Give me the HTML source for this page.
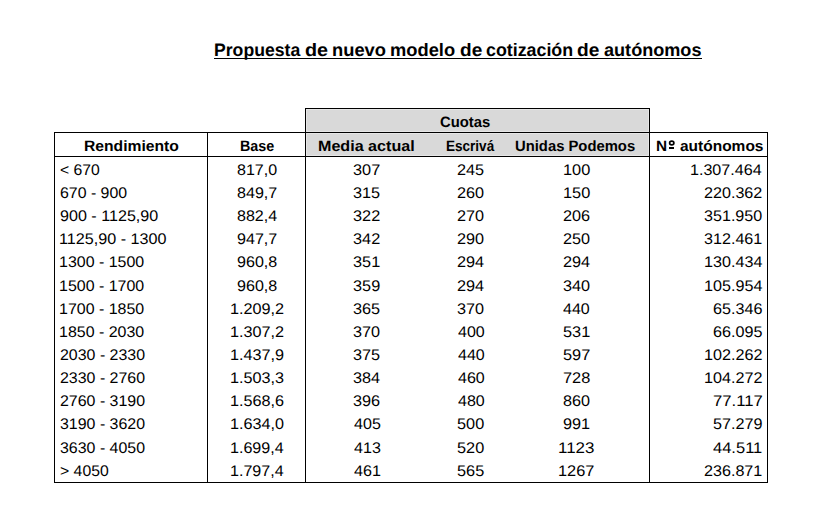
<!DOCTYPE html>
<html><head><meta charset="utf-8"><style>
html,body{margin:0;padding:0;background:#fff;}
body{width:813px;height:520px;position:relative;overflow:hidden;font-family:"Liberation Sans",sans-serif;color:#000;}
.t{position:absolute;white-space:pre;line-height:1;transform-origin:0 0;-webkit-font-smoothing:antialiased;text-rendering:geometricPrecision;}
.l{position:absolute;background:#000;}
.g{position:absolute;background:#d9d9d9;}
</style></head><body>
<div class="g" style="left:305px;top:108px;width:345px;height:48px"></div>
<div style="position:absolute;left:306px;top:109px;width:1px;height:47px;background:#e6e6e6"></div>
<div style="position:absolute;left:648px;top:109px;width:1px;height:47px;background:#e6e6e6"></div>
<div style="position:absolute;left:306px;top:109px;width:343px;height:1px;background:#e6e6e6"></div>
<div style="position:absolute;left:306px;top:131px;width:343px;height:1px;background:#e6e6e6"></div>
<div style="position:absolute;left:306px;top:133px;width:343px;height:1px;background:#e6e6e6"></div>
<div style="position:absolute;left:306px;top:155px;width:343px;height:1px;background:#e6e6e6"></div>
<div class="l" style="left:305px;top:108px;width:345px;height:1px"></div>
<div class="l" style="left:54px;top:132px;width:714px;height:1px"></div>
<div class="l" style="left:54px;top:156px;width:714px;height:1px"></div>
<div class="l" style="left:54px;top:482px;width:714px;height:1px"></div>
<div class="l" style="left:54px;top:132px;width:1px;height:351px"></div>
<div class="l" style="left:207px;top:132px;width:1px;height:351px"></div>
<div class="l" style="left:305px;top:108px;width:1px;height:375px"></div>
<div class="l" style="left:649px;top:108px;width:1px;height:375px"></div>
<div class="l" style="left:767px;top:132px;width:1px;height:351px"></div>
<div class="t" style="left:213.84px;top:40.76px;font-size:18.0px;font-weight:bold;transform:scaleX(0.9797)">Propuesta</div>
<div class="t" style="left:305.08px;top:40.76px;font-size:18.0px;font-weight:bold;transform:scaleX(1.0994)">de</div>
<div class="t" style="left:331.88px;top:40.76px;font-size:18.0px;font-weight:bold;transform:scaleX(1.0183)">nuevo</div>
<div class="t" style="left:390.28px;top:40.76px;font-size:18.0px;font-weight:bold;transform:scaleX(1.0166)">modelo</div>
<div class="t" style="left:459.61px;top:40.76px;font-size:18.0px;font-weight:bold;transform:scaleX(1.0587)">de</div>
<div class="t" style="left:486.07px;top:40.76px;font-size:18.0px;font-weight:bold;transform:scaleX(0.9898)">cotización</div>
<div class="t" style="left:576.71px;top:40.76px;font-size:18.0px;font-weight:bold;transform:scaleX(1.0638)">de</div>
<div class="t" style="left:603.69px;top:40.76px;font-size:18.0px;font-weight:bold;transform:scaleX(1.0050)">autónomos</div>
<div class="l" style="left:214px;top:58px;width:488px;height:1px"></div>
<svg style="position:absolute;left:660px;top:130px" width="20" height="20"><ellipse cx="11.75" cy="13.0" rx="2.15" ry="1.85" fill="none" stroke="#000" stroke-width="1.65"/></svg>
<div class="l" style="left:669px;top:147.2px;width:5.1px;height:1.5px"></div>
<div class="t" style="left:84.05px;top:138.90px;font-size:15.0px;font-weight:bold;transform:scaleX(1.0449)">Rendimiento</div>
<div class="t" style="left:240.34px;top:138.90px;font-size:15.0px;font-weight:bold;transform:scaleX(0.9548)">Base</div>
<div class="t" style="left:318.33px;top:138.90px;font-size:15.0px;font-weight:bold;transform:scaleX(1.0737)">Media actual</div>
<div class="t" style="left:445.78px;top:138.90px;font-size:15.0px;font-weight:bold;transform:scaleX(0.9021)">Escrivá</div>
<div class="t" style="left:515.28px;top:138.90px;font-size:15.0px;font-weight:bold;transform:scaleX(0.9874)">Unidas Podemos</div>
<div class="t" style="left:656.37px;top:138.90px;font-size:15.0px;font-weight:bold;transform:scaleX(1.0222)">N</div>
<div class="t" style="left:679.65px;top:138.90px;font-size:15.0px;font-weight:bold;transform:scaleX(1.0327)">autónomos</div>
<div class="t" style="left:440.45px;top:115.10px;font-size:15.0px;font-weight:bold;transform:scaleX(0.9887)">Cuotas</div>
<div class="t" style="left:59.59px;top:162.76px;font-size:15.4px;transform:scaleX(1.0236)">< 670</div>
<div class="t" style="left:237.34px;top:162.76px;font-size:15.4px;transform:scaleX(1.0428)">817,0</div>
<div class="t" style="left:353.31px;top:162.76px;font-size:15.4px;transform:scaleX(1.0599)">307</div>
<div class="t" style="left:457.33px;top:162.76px;font-size:15.4px;transform:scaleX(1.0567)">245</div>
<div class="t" style="left:562.74px;top:162.76px;font-size:15.4px;transform:scaleX(1.0630)">100</div>
<div class="t" style="left:690.48px;top:162.76px;font-size:15.4px;transform:scaleX(1.0455)">1.307.464</div>
<div class="t" style="left:59.61px;top:185.91px;font-size:15.4px;transform:scaleX(1.0321)">670 - 900</div>
<div class="t" style="left:237.34px;top:185.91px;font-size:15.4px;transform:scaleX(1.0452)">849,7</div>
<div class="t" style="left:353.31px;top:185.91px;font-size:15.4px;transform:scaleX(1.0573)">315</div>
<div class="t" style="left:457.33px;top:185.91px;font-size:15.4px;transform:scaleX(1.0555)">260</div>
<div class="t" style="left:562.74px;top:185.91px;font-size:15.4px;transform:scaleX(1.0630)">150</div>
<div class="t" style="left:704.00px;top:185.91px;font-size:15.4px;transform:scaleX(1.0476)">220.362</div>
<div class="t" style="left:59.62px;top:209.06px;font-size:15.4px;transform:scaleX(1.0469)">900 - 1125,90</div>
<div class="t" style="left:237.34px;top:209.06px;font-size:15.4px;transform:scaleX(1.0433)">882,4</div>
<div class="t" style="left:353.31px;top:209.06px;font-size:15.4px;transform:scaleX(1.0590)">322</div>
<div class="t" style="left:457.33px;top:209.06px;font-size:15.4px;transform:scaleX(1.0555)">270</div>
<div class="t" style="left:562.93px;top:209.06px;font-size:15.4px;transform:scaleX(1.0567)">206</div>
<div class="t" style="left:703.99px;top:209.06px;font-size:15.4px;transform:scaleX(1.0466)">351.950</div>
<div class="t" style="left:59.42px;top:232.21px;font-size:15.4px;transform:scaleX(1.0499)">1125,90 - 1300</div>
<div class="t" style="left:237.31px;top:232.21px;font-size:15.4px;transform:scaleX(1.0460)">947,7</div>
<div class="t" style="left:353.31px;top:232.21px;font-size:15.4px;transform:scaleX(1.0590)">342</div>
<div class="t" style="left:457.33px;top:232.21px;font-size:15.4px;transform:scaleX(1.0555)">290</div>
<div class="t" style="left:562.93px;top:232.21px;font-size:15.4px;transform:scaleX(1.0555)">250</div>
<div class="t" style="left:703.99px;top:232.21px;font-size:15.4px;transform:scaleX(1.0479)">312.461</div>
<div class="t" style="left:59.43px;top:255.36px;font-size:15.4px;transform:scaleX(1.0376)">1300 - 1500</div>
<div class="t" style="left:237.31px;top:255.36px;font-size:15.4px;transform:scaleX(1.0446)">960,8</div>
<div class="t" style="left:353.31px;top:255.36px;font-size:15.4px;transform:scaleX(1.0590)">351</div>
<div class="t" style="left:457.33px;top:255.36px;font-size:15.4px;transform:scaleX(1.0563)">294</div>
<div class="t" style="left:562.93px;top:255.36px;font-size:15.4px;transform:scaleX(1.0563)">294</div>
<div class="t" style="left:703.82px;top:255.36px;font-size:15.4px;transform:scaleX(1.0500)">130.434</div>
<div class="t" style="left:59.43px;top:278.51px;font-size:15.4px;transform:scaleX(1.0376)">1500 - 1700</div>
<div class="t" style="left:237.31px;top:278.51px;font-size:15.4px;transform:scaleX(1.0446)">960,8</div>
<div class="t" style="left:353.31px;top:278.51px;font-size:15.4px;transform:scaleX(1.0590)">359</div>
<div class="t" style="left:457.33px;top:278.51px;font-size:15.4px;transform:scaleX(1.0563)">294</div>
<div class="t" style="left:562.91px;top:278.51px;font-size:15.4px;transform:scaleX(1.0561)">340</div>
<div class="t" style="left:703.82px;top:278.51px;font-size:15.4px;transform:scaleX(1.0500)">105.954</div>
<div class="t" style="left:59.43px;top:301.66px;font-size:15.4px;transform:scaleX(1.0376)">1700 - 1850</div>
<div class="t" style="left:230.43px;top:301.66px;font-size:15.4px;transform:scaleX(1.0543)">1.209,2</div>
<div class="t" style="left:353.31px;top:301.66px;font-size:15.4px;transform:scaleX(1.0573)">365</div>
<div class="t" style="left:457.31px;top:301.66px;font-size:15.4px;transform:scaleX(1.0561)">370</div>
<div class="t" style="left:563.24px;top:301.66px;font-size:15.4px;transform:scaleX(1.0432)">440</div>
<div class="t" style="left:712.91px;top:301.66px;font-size:15.4px;transform:scaleX(1.0504)">65.346</div>
<div class="t" style="left:59.43px;top:324.81px;font-size:15.4px;transform:scaleX(1.0376)">1850 - 2030</div>
<div class="t" style="left:230.43px;top:324.81px;font-size:15.4px;transform:scaleX(1.0543)">1.307,2</div>
<div class="t" style="left:353.31px;top:324.81px;font-size:15.4px;transform:scaleX(1.0561)">370</div>
<div class="t" style="left:457.64px;top:324.81px;font-size:15.4px;transform:scaleX(1.0432)">400</div>
<div class="t" style="left:562.83px;top:324.81px;font-size:15.4px;transform:scaleX(1.0621)">531</div>
<div class="t" style="left:712.91px;top:324.81px;font-size:15.4px;transform:scaleX(1.0499)">66.095</div>
<div class="t" style="left:59.61px;top:347.96px;font-size:15.4px;transform:scaleX(1.0354)">2030 - 2330</div>
<div class="t" style="left:230.43px;top:347.96px;font-size:15.4px;transform:scaleX(1.0537)">1.437,9</div>
<div class="t" style="left:353.31px;top:347.96px;font-size:15.4px;transform:scaleX(1.0573)">375</div>
<div class="t" style="left:457.64px;top:347.96px;font-size:15.4px;transform:scaleX(1.0432)">440</div>
<div class="t" style="left:562.83px;top:347.96px;font-size:15.4px;transform:scaleX(1.0630)">597</div>
<div class="t" style="left:703.82px;top:347.96px;font-size:15.4px;transform:scaleX(1.0509)">102.262</div>
<div class="t" style="left:59.61px;top:371.11px;font-size:15.4px;transform:scaleX(1.0354)">2330 - 2760</div>
<div class="t" style="left:230.43px;top:371.11px;font-size:15.4px;transform:scaleX(1.0532)">1.503,3</div>
<div class="t" style="left:353.31px;top:371.11px;font-size:15.4px;transform:scaleX(1.0570)">384</div>
<div class="t" style="left:457.64px;top:371.11px;font-size:15.4px;transform:scaleX(1.0432)">460</div>
<div class="t" style="left:562.79px;top:371.11px;font-size:15.4px;transform:scaleX(1.0627)">728</div>
<div class="t" style="left:703.82px;top:371.11px;font-size:15.4px;transform:scaleX(1.0509)">104.272</div>
<div class="t" style="left:59.61px;top:394.26px;font-size:15.4px;transform:scaleX(1.0354)">2760 - 3190</div>
<div class="t" style="left:230.43px;top:394.26px;font-size:15.4px;transform:scaleX(1.0527)">1.568,6</div>
<div class="t" style="left:353.31px;top:394.26px;font-size:15.4px;transform:scaleX(1.0573)">396</div>
<div class="t" style="left:457.64px;top:394.26px;font-size:15.4px;transform:scaleX(1.0432)">480</div>
<div class="t" style="left:562.98px;top:394.26px;font-size:15.4px;transform:scaleX(1.0534)">860</div>
<div class="t" style="left:712.75px;top:394.26px;font-size:15.4px;transform:scaleX(1.0842)">77.117</div>
<div class="t" style="left:59.59px;top:417.41px;font-size:15.4px;transform:scaleX(1.0356)">3190 - 3620</div>
<div class="t" style="left:230.43px;top:417.41px;font-size:15.4px;transform:scaleX(1.0520)">1.634,0</div>
<div class="t" style="left:353.64px;top:417.41px;font-size:15.4px;transform:scaleX(1.0444)">405</div>
<div class="t" style="left:457.23px;top:417.41px;font-size:15.4px;transform:scaleX(1.0592)">500</div>
<div class="t" style="left:562.95px;top:417.41px;font-size:15.4px;transform:scaleX(1.0575)">991</div>
<div class="t" style="left:712.82px;top:417.41px;font-size:15.4px;transform:scaleX(1.0532)">57.279</div>
<div class="t" style="left:59.59px;top:440.56px;font-size:15.4px;transform:scaleX(1.0356)">3630 - 4050</div>
<div class="t" style="left:230.44px;top:440.56px;font-size:15.4px;transform:scaleX(1.0450)">1.699,4</div>
<div class="t" style="left:353.64px;top:440.56px;font-size:15.4px;transform:scaleX(1.0449)">413</div>
<div class="t" style="left:457.23px;top:440.56px;font-size:15.4px;transform:scaleX(1.0592)">520</div>
<div class="t" style="left:558.25px;top:440.56px;font-size:15.4px;transform:scaleX(1.1001)">1123</div>
<div class="t" style="left:713.20px;top:440.56px;font-size:15.4px;transform:scaleX(1.0726)">44.511</div>
<div class="t" style="left:59.58px;top:463.71px;font-size:15.4px;transform:scaleX(1.0255)">> 4050</div>
<div class="t" style="left:230.44px;top:463.71px;font-size:15.4px;transform:scaleX(1.0450)">1.797,4</div>
<div class="t" style="left:353.64px;top:463.71px;font-size:15.4px;transform:scaleX(1.0460)">461</div>
<div class="t" style="left:457.23px;top:463.71px;font-size:15.4px;transform:scaleX(1.0604)">565</div>
<div class="t" style="left:558.28px;top:463.71px;font-size:15.4px;transform:scaleX(1.0626)">1267</div>
<div class="t" style="left:704.00px;top:463.71px;font-size:15.4px;transform:scaleX(1.0476)">236.871</div>
</body></html>
